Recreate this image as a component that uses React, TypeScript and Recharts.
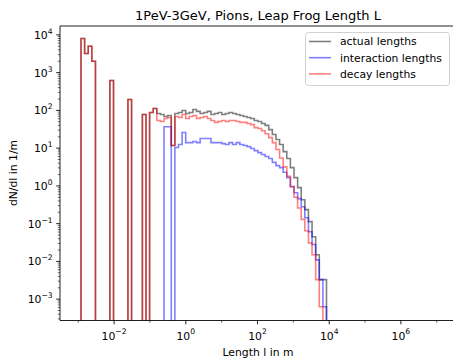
import React from 'react';
import { LineChart, Line, XAxis, YAxis, Legend, ReferenceLine } from 'recharts';

// Histogram binning (log-spaced bins, shared by all three series)
const BIN_COUNT = 68;
const LOG_FIRST_EDGE = -2.923;
const LOG_BIN_WIDTH = 0.1007;

// dN/dl per bin (0 = empty bin)
const actualLengths = [
  8000, 3200, 5000, 2000, 0, 0, 0, 0, 620, 0,
  0, 0, 0, 195, 0, 0, 0, 78, 0, 88,
  112, 83, 78, 69, 73, 11.7, 83, 88, 99, 83,
  88, 106, 94, 83, 88, 94, 78, 83, 88, 78,
  83, 88, 83, 78, 73, 69, 65, 61, 54, 51,
  45, 40, 31, 23, 17, 12.5, 8.1, 5.3, 3.05, 1.66,
  0.9, 0.43, 0.235, 0.113, 0.045, 0.015, 0.0033, 0.0033,
];

const interactionLengths = [
  0, 0, 0, 0, 0, 0, 0, 0, 0, 0,
  0, 0, 0, 0, 0, 0, 0, 0, 0, 0,
  0, 0, 0, 37, 37, 0, 10.4, 12.5, 26, 14,
  14, 15, 14, 18, 18, 18, 14, 14, 14, 13.2,
  12.5, 14, 12.5, 14, 12.5, 11.7, 11, 9.8, 8.6, 7.6,
  6.8, 6.0, 5.3, 4.2, 3.45, 3.05, 2.3, 1.66, 0.96, 0.66,
  0.46, 0.28, 0.144, 0.061, 0.028, 0.011, 0.0033, 0.00063,
];

const decayLengths = [
  8000, 3200, 5000, 2000, 0, 0, 0, 0, 620, 0,
  0, 0, 0, 195, 0, 0, 0, 78, 0, 88,
  112, 54, 51, 61, 65, 11.7, 69, 65, 78, 61,
  69, 73, 61, 65, 69, 61, 54, 48, 51, 54,
  51, 54, 54, 51, 48, 48, 45, 42, 35, 33,
  29, 24, 19, 14, 9.2, 5.5, 3.2, 1.8, 0.95, 0.5,
  0.26, 0.13, 0.065, 0.031, 0.015, 0.0033, 0.00063, 0,
];

const seriesNames = ['actual lengths', 'interaction lengths', 'decay lengths'];
const seriesColors = ['#000000', '#0000ff', '#ff0000'];

const xMajorTicks = [1e-2, 1, 1e2, 1e4, 1e6];
const xMinorTicks = [1e-3, 1e-1, 1e1, 1e3, 1e5, 1e7];
const yMajorTicks = [1e-3, 1e-2, 1e-1, 1, 1e1, 1e2, 1e3, 1e4];

const X_DOMAIN: [number, number] = [10 ** -3.509, 10 ** 7.537];
const Y_DOMAIN: [number, number] = [10 ** -3.565, 10 ** 4.235];

const EMPTY = 1e-12;
const FONT = '"DejaVu Sans", sans-serif';

const edges = Array.from({ length: BIN_COUNT + 1 }, (_, k) => 10 ** (LOG_FIRST_EDGE + k * LOG_BIN_WIDTH));
const val = (arr: number[], k: number) => (arr[k] > 0 ? arr[k] : EMPTY);

const rows = [
  { x: edges[0], actual: EMPTY, interaction: EMPTY, decay: EMPTY },
  ...edges.slice(0, BIN_COUNT).map((x, k) => ({
    x,
    actual: val(actualLengths, k),
    interaction: val(interactionLengths, k),
    decay: val(decayLengths, k),
  })),
  {
    x: edges[BIN_COUNT],
    actual: val(actualLengths, BIN_COUNT - 1),
    interaction: val(interactionLengths, BIN_COUNT - 1),
    decay: val(decayLengths, BIN_COUNT - 1),
  },
  { x: edges[BIN_COUNT], actual: EMPTY, interaction: EMPTY, decay: EMPTY },
];

const yMinorTicks: number[] = [];
for (let e = -4; e <= 4; e++) {
  for (let m = 2; m <= 9; m++) {
    const t = m * 10 ** e;
    if (t > Y_DOMAIN[0] && t < Y_DOMAIN[1]) yMinorTicks.push(t);
  }
}

const expLabel = (e: number) => (e < 0 ? '\u2212' + Math.abs(e) : String(e));

const YTick = (props: any) => {
  const { x, y, payload } = props;
  const v = payload.value as number;
  const major = yMajorTicks.some((t) => Math.abs(t - v) / t < 1e-6);
  const e = Math.round(Math.log10(v));
  return (
    <g>
      <line x1={x} x2={x - (major ? 3.8 : 2.2)} y1={y} y2={y} stroke="#000" strokeWidth={major ? 0.87 : 0.6} />
      {major && (
        <text x={x - 7.4} y={y + 4} textAnchor="end" fontSize={10.8} fontFamily={FONT} fill="#000">
          10<tspan dy={-5.1} fontSize={7.6}>{expLabel(e)}</tspan>
        </text>
      )}
    </g>
  );
};

const XTick = (props: any) => {
  const { x, y, payload } = props;
  const v = payload.value as number;
  const major = xMajorTicks.some((t) => Math.abs(t - v) / t < 1e-6);
  const e = Math.round(Math.log10(v));
  return (
    <g>
      <line x1={x} x2={x} y1={y} y2={y + (major ? 3.8 : 2.2)} stroke="#000" strokeWidth={major ? 0.87 : 0.6} />
      {major && (
        <text x={x} y={y + 19} textAnchor="middle" fontSize={10.8} fontFamily={FONT} fill="#000">
          10<tspan dy={-5.1} fontSize={7.6}>{expLabel(e)}</tspan>
        </text>
      )}
    </g>
  );
};

const LegendBox = (props: any) => {
  const payload = ([...(props.payload || [])] as any[]).sort(
    (a, b) => seriesNames.indexOf(a.value) - seriesNames.indexOf(b.value)
  );
  return (
    <svg width={146} height={55} style={{ display: 'block', overflow: 'visible' }}>
      <rect x={0.5} y={0.5} width={144} height={53} rx={3} fill="#ffffff" fillOpacity={0.8} stroke="#cccccc" strokeWidth={0.9} />
      {payload.map((entry, i) => (
        <g key={i}>
          <line x1={4} x2={26} y1={9.5 + 16.2 * i} y2={9.5 + 16.2 * i} stroke={entry.color} strokeOpacity={0.5} strokeWidth={1.6} />
          <text x={35} y={13.4 + 16.2 * i} fontSize={10.8} fontFamily={FONT} fill="#000">
            {entry.value}
          </text>
        </g>
      ))}
    </svg>
  );
};

export default function App() {
  return (
    <div style={{ position: 'absolute', left: 0, top: 0, width: 453, height: 358, overflow: 'hidden', background: '#fff' }}>
      <LineChart width={470} height={358} data={rows} margin={{ top: 26, right: 14, left: 0, bottom: 0 }}>
        <XAxis
          dataKey="x"
          type="number"
          scale="log"
          domain={X_DOMAIN}
          allowDataOverflow
          ticks={[...xMajorTicks, ...xMinorTicks]}
          interval={0}
          tick={<XTick />}
          tickLine={false}
          tickSize={0}
          tickMargin={0}
          height={37.5}
          axisLine={{ stroke: '#000', strokeWidth: 0.87 }}
        />
        <YAxis
          type="number"
          scale="log"
          domain={Y_DOMAIN}
          allowDataOverflow
          ticks={[...yMajorTicks, ...yMinorTicks]}
          interval={0}
          tick={<YTick />}
          tickLine={false}
          tickSize={0}
          tickMargin={0}
          width={60}
          axisLine={{ stroke: '#000', strokeWidth: 0.87 }}
        />
        <ReferenceLine y={Y_DOMAIN[1]} stroke="#000" strokeWidth={0.87} ifOverflow="visible" />
        <Line dataKey="actual" name={seriesNames[0]} type="stepAfter" stroke={seriesColors[0]} strokeOpacity={0.5} strokeWidth={1.6} dot={false} activeDot={false} isAnimationActive={false} />
        <Line dataKey="interaction" name={seriesNames[1]} type="stepAfter" stroke={seriesColors[1]} strokeOpacity={0.5} strokeWidth={1.6} dot={false} activeDot={false} isAnimationActive={false} />
        <Line dataKey="decay" name={seriesNames[2]} type="stepAfter" stroke={seriesColors[2]} strokeOpacity={0.5} strokeWidth={1.6} dot={false} activeDot={false} isAnimationActive={false} />
        <Legend
          layout="vertical"
          align="center"
          verticalAlign="middle"
          itemSorter={null as any}
          wrapperStyle={{ position: 'absolute', left: 305, top: 31.5, width: 146, height: 55 }}
          content={<LegendBox />}
        />
      </LineChart>
      <svg width={453} height={358} style={{ position: 'absolute', left: 0, top: 0, pointerEvents: 'none' }}>
        <text x={258} y={20} textAnchor="middle" fontSize={13} fontFamily={FONT} fill="#000">
          1PeV-3GeV, Pions, Leap Frog Length L
        </text>
        <text x={258} y={356} textAnchor="middle" fontSize={10.8} fontFamily={FONT} fill="#000">
          Length l in m
        </text>
        <text x={16.5} y={173} textAnchor="middle" fontSize={10.8} fontFamily={FONT} fill="#000" transform="rotate(-90 16.5 173)">
          dN/dl in 1/m
        </text>
      </svg>
    </div>
  );
}
